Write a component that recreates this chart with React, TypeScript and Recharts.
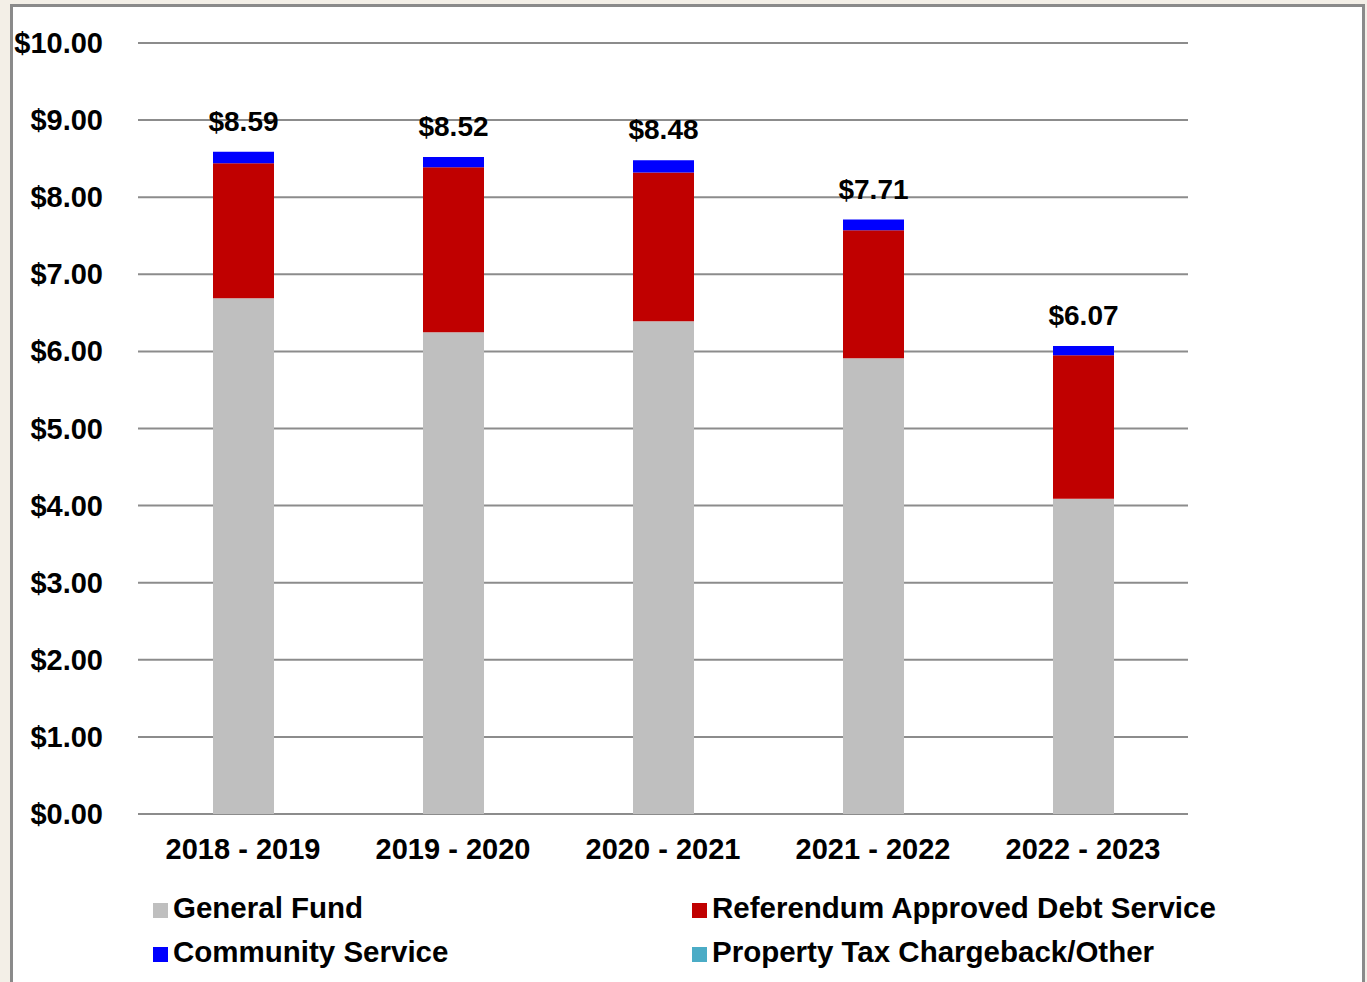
import React from 'react';
import { BarChart, Bar, XAxis, YAxis, CartesianGrid, Legend, LabelList } from 'recharts';

const years = ['2018 - 2019', '2019 - 2020', '2020 - 2021', '2021 - 2022', '2022 - 2023'];
const generalFund = [6.69, 6.25, 6.39, 5.91, 4.09];
const debtService = [1.75, 2.14, 1.93, 1.66, 1.86];
const communityService = [0.15, 0.13, 0.16, 0.14, 0.12];
const chargeback = [0, 0, 0, 0, 0];
const totals = [8.59, 8.52, 8.48, 7.71, 6.07];
const yTicks = [0, 1, 2, 3, 4, 5, 6, 7, 8, 9, 10];

const series = [
  { key: 'general', name: 'General Fund', color: '#bfbfbf' },
  { key: 'debt', name: 'Referendum Approved Debt Service', color: '#c00000' },
  { key: 'community', name: 'Community Service', color: '#0000ff' },
  { key: 'chargeback', name: 'Property Tax Chargeback/Other', color: '#4bacc6' },
];

const data = years.map((year, i) => ({
  year,
  general: generalFund[i],
  debt: debtService[i],
  community: communityService[i],
  chargeback: chargeback[i],
  total: totals[i],
}));

const money = (v: number) => `$${v.toFixed(2)}`;
const FONT = "'Liberation Sans', Arial, sans-serif";

const XTick = (props: any) => {
  const { x, y, payload } = props;
  return (
    <text x={x} y={y + 35} textAnchor="middle" dominantBaseline="central"
      fontSize={29} fontWeight="bold" fill="#000" fontFamily={FONT}>
      {payload.value}
    </text>
  );
};

const YTick = (props: any) => {
  const { x, y, payload } = props;
  return (
    <text x={x - 35} y={y} textAnchor="end" dominantBaseline="central"
      fontSize={29} fontWeight="bold" fill="#000" fontFamily={FONT}>
      {money(payload.value)}
    </text>
  );
};

const LegendBox = () => {
  const rows = [[series[0], series[1]], [series[2], series[3]]];
  return (
    <div style={{ width: 1367, height: 100, paddingTop: 12, boxSizing: 'border-box', fontFamily: FONT }}>
      {rows.map((row, r) => (
        <div key={r} style={{ position: 'relative', height: 44 }}>
          {row.map((s, c) => (
            <div key={s.key} style={{
              position: 'absolute', left: c === 0 ? 153 : 692, top: 0, height: 44,
              display: 'flex', alignItems: 'center', fontSize: 29.5, fontWeight: 'bold', color: '#000',
              whiteSpace: 'nowrap',
            }}>
              <span style={{ width: 15, height: 15, background: s.color, marginRight: 5, marginTop: 4 }} />
              {s.name}
            </div>
          ))}
        </div>
      ))}
    </div>
  );
};

export default function App() {
  return (
    <div style={{ position: 'absolute', left: 0, top: 0, width: 1367, height: 982, background: '#f3efe7', overflow: 'hidden' }}>
      <div style={{
        position: 'absolute', left: 10, top: 4, width: 1349, height: 1000,
        background: '#fff', border: '3px solid #8a8a8a',
      }} />
      <div style={{ position: 'absolute', left: 0, top: 0 }}>
        <BarChart width={1367} height={982} data={data}
          margin={{ top: 43, right: 179, left: 18, bottom: 8 }}
          style={{ fontFamily: FONT }}>
          <CartesianGrid vertical={false} stroke="#8c8c8c" strokeWidth={2} />
          <XAxis dataKey="year" axisLine={false} tickLine={false} tickSize={0} tickMargin={0}
            height={60} tick={<XTick />} interval={0} />
          <YAxis domain={[0, 10]} ticks={yTicks} axisLine={false} tickLine={false}
            tickSize={0} tickMargin={0} width={120} tick={<YTick />} />
          <Legend verticalAlign="bottom" content={<LegendBox />}
            wrapperStyle={{ left: 0, width: 1367, height: 100 }} />
          {series.map((s) => (
            <Bar key={s.key} dataKey={s.key} name={s.name} stackId="a" fill={s.color}
              barSize={61} isAnimationActive={false}>
              {s.key === 'community' && (
                <LabelList dataKey="total" position="top" offset={21}
                  formatter={(v: any) => money(Number(v))}
                  style={{ fontSize: 28, fontWeight: 'bold', fill: '#000', fontFamily: FONT }} />
              )}
            </Bar>
          ))}
        </BarChart>
      </div>
    </div>
  );
}
